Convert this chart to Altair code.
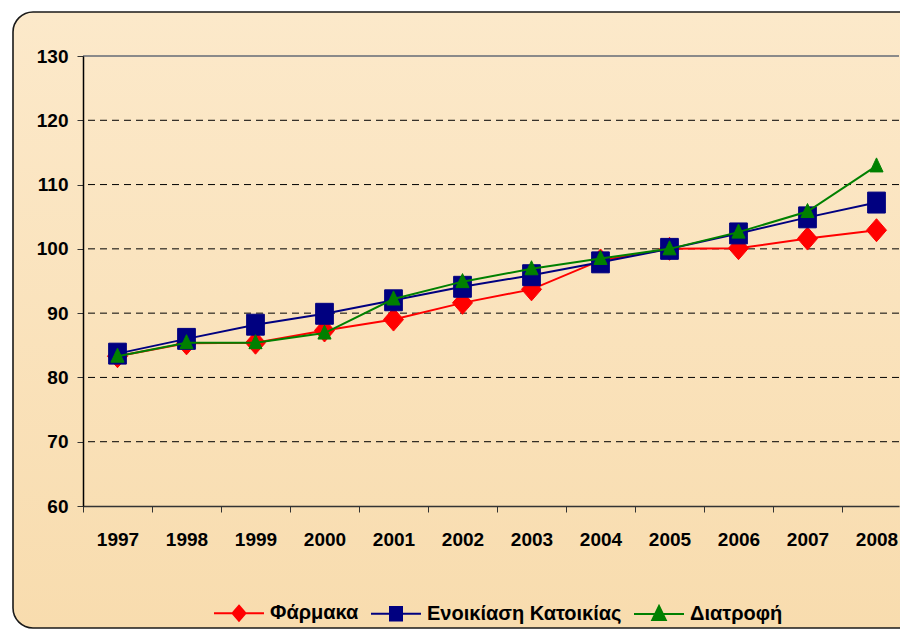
import altair as alt
import pandas as pd

# ---- data ----
years = [1997, 1998, 1999, 2000, 2001, 2002, 2003, 2004, 2005, 2006, 2007, 2008]
series_names = ["Φάρμακα", "Ενοικίαση Κατοικίας", "Διατροφή"]
farmaka = [83.3, 85.3, 85.4, 87.3, 89.0, 91.6, 93.7, 98.2, 100.0, 100.1, 101.6, 102.9]
enoikiasi = [83.7, 86.0, 88.2, 89.9, 92.0, 94.1, 95.9, 97.9, 100.0, 102.4, 104.9, 107.2]
diatrofi = [83.3, 85.4, 85.4, 86.9, 92.2, 94.9, 96.9, 98.5, 100.0, 102.6, 105.8, 112.9]
y_ticks = [60, 70, 80, 90, 100, 110, 120, 130]
grid_values = [70, 80, 90, 100, 110, 120]
top_value = [130]

# ---- styling ----
colors = ["#FF0000", "#000080", "#008000"]
marker_paths = [
    "M0,-1L0.87,0L0,1L-0.87,0Z",
    "M-0.77,-0.91H0.77V0.91H-0.77Z",
    "M0,-0.7L0.57,0.52H-0.57Z",
]
legend_paths = [
    "M-1,0H1M0,-0.3L0.26,0L0,0.3L-0.26,0Z",
    "M-1,0H1M-0.24,-0.27H0.24V0.27H-0.24Z",
    "M-1,0H1M0,-0.32L0.27,0.24H-0.27Z",
]
FONT = "Liberation Sans, Arial, sans-serif"
FS = 19
LFS = 20

W, H = 816, 450
px_per_year = 69.0
x_max = years[0] - 0.5 + W / px_per_year

values_by_series = [farmaka, enoikiasi, diatrofi]
rows = []
for name, vals in zip(series_names, values_by_series):
    for yr, v in zip(years, vals):
        rows.append({"year": yr, "value": v, "series": name})
df = pd.DataFrame(rows)

tick_positions = [y - 0.5 for y in years]

x_enc = alt.X(
    "year:Q",
    scale=alt.Scale(domain=[years[0] - 0.5, x_max], nice=False, zero=False),
    axis=alt.Axis(
        values=tick_positions,
        labelExpr="format(datum.value + 0.5, 'd')",
        labelOffset=px_per_year / 2,
        labelFlush=False,
        labelOverlap=False,
        labelBound=False,
        grid=False,
        title=None,
        tickSize=6,
        tickColor="#333333",
        domainColor="#333333",
        domainWidth=1.5,
        labelFont=FONT,
        labelFontSize=FS,
        labelFontWeight="bold",
        labelColor="black",
        labelPadding=18,
        zindex=1,
    ),
)
y_enc = alt.Y(
    "value:Q",
    scale=alt.Scale(domain=[y_ticks[0], y_ticks[-1]], nice=False, zero=False),
    axis=alt.Axis(
        values=y_ticks,
        grid=False,
        title=None,
        tickSize=6,
        tickColor="#333333",
        domainColor="black",
        domainWidth=1.5,
        labelFont=FONT,
        labelFontSize=FS,
        labelFontWeight="bold",
        labelColor="black",
        labelPadding=9,
        zindex=1,
    ),
)

background = alt.Chart(alt.Data(values=[{"a": 1}])).mark_rect(
    fill=alt.LinearGradient(
        gradient="linear",
        stops=[
            alt.GradientStop(color="#FCE9CA", offset=0),
            alt.GradientStop(color="#F8DCAE", offset=1),
        ],
        x1=0, x2=0, y1=0, y2=1,
    ),
    stroke="#1a1a1a",
    strokeWidth=1.6,
    cornerRadius=20,
).encode(
    x=alt.value(-70),
    x2=alt.value(W + 60),
    y=alt.value(-44),
    y2=alt.value(H + 122),
)

grid = alt.Chart(pd.DataFrame({"value": grid_values})).mark_rule(
    color="black", strokeWidth=1, strokeDash=[7, 5]
).encode(y=y_enc)

top_rule = alt.Chart(pd.DataFrame({"value": top_value})).mark_rule(
    color="#8a8a8a", strokeWidth=2
).encode(y=y_enc)

layers = [background, grid, top_rule]
base = alt.Chart(df)
for name, col, path in zip(series_names, colors, marker_paths):
    sub = base.transform_filter(alt.datum.series == name)
    layers.append(sub.mark_line(color=col, strokeWidth=2).encode(x=x_enc, y=y_enc))
    layers.append(
        sub.mark_point(
            shape=path, size=529, filled=True, color=col, stroke=col,
            strokeWidth=1, opacity=1,
        ).encode(x=x_enc, y=y_enc)
    )

leg = alt.Legend(
    orient="none",
    legendX=130,
    legendY=531,
    direction="horizontal",
    title=None,
    symbolSize=2500,
    symbolStrokeWidth=2,
    labelFont=FONT,
    labelFontSize=LFS,
    labelFontWeight="bold",
    labelColor="black",
    labelOffset=5,
    labelLimit=500,
    columnPadding=8,
    padding=0,
)
legend_layer = base.mark_point(filled=True, size=0, strokeWidth=2, opacity=1).encode(
    x=x_enc,
    y=y_enc,
    fill=alt.Fill("series:N", sort=series_names,
                  scale=alt.Scale(domain=series_names, range=colors), legend=leg),
    stroke=alt.Stroke("series:N", sort=series_names,
                      scale=alt.Scale(domain=series_names, range=colors), legend=leg),
    shape=alt.Shape("series:N", sort=series_names,
                    scale=alt.Scale(domain=series_names, range=legend_paths), legend=leg),
)
layers.append(legend_layer)

chart = alt.layer(*layers).properties(
    width=W,
    height=H,
    autosize=alt.AutoSizeParams(type="none"),
    padding={"left": 75, "top": 48, "right": 1, "bottom": 123},
    background="white",
).configure_view(stroke=None)

chart.save("out.html", embed_options={"renderer": "svg", "actions": False})
